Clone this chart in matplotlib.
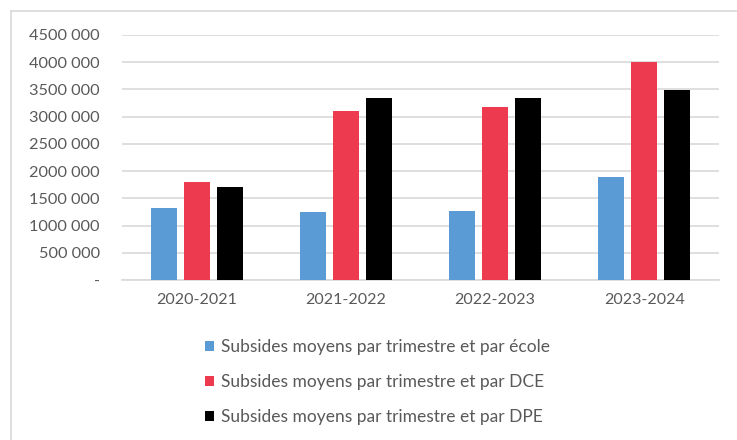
import matplotlib
matplotlib.use("Agg")
import matplotlib.pyplot as plt
import numpy as np
from matplotlib.ticker import FuncFormatter

categories = ["2020-2021", "2021-2022", "2022-2023", "2023-2024"]
ecole = [1330000, 1250000, 1275000, 1890000]
dce = [1795000, 3100000, 3175000, 3995000]
dpe = [1705000, 3345000, 3345000, 3490000]
series_labels = [
    "Subsides moyens par trimestre et par école",
    "Subsides moyens par trimestre et par DCE",
    "Subsides moyens par trimestre et par DPE",
]
colors = ["#5B9BD5", "#EE3A4F", "#000000"]
yticks = [0, 500000, 1000000, 1500000, 2000000, 2500000, 3000000, 3500000, 4000000, 4500000]

plt.rcParams['font.family'] = ['Lato', 'DejaVu Sans']
text_color = "#595959"

fig = plt.figure(figsize=(7.37, 4.4), dpi=100)
ax = fig.add_axes([122/737, 1-280/440, 597/737, 245/440])

x = np.arange(len(categories))
width = 0.174
step = 0.221
bars = []
for i, (vals, lab, c) in enumerate(zip([ecole, dce, dpe], series_labels, colors)):
    b = ax.bar(x + (i-1)*step, vals, width, color=c, label=lab, zorder=3)
    bars.append(b)

ax.set_xlim(-0.5, len(categories)-0.5)
ax.set_ylim(0, 4500000)
ax.set_yticks(yticks)

def fmt(v, pos):
    v = int(round(v))
    if v == 0:
        return "-"
    thousands = v % 1000
    rest = v // 1000
    return f"{rest} {thousands:03d}"

ax.yaxis.set_major_formatter(FuncFormatter(fmt))
ax.set_xticks(x)
ax.set_xticklabels(categories)
ax.grid(axis='y', color="#D9D9D9", linewidth=1.2, zorder=0)
for s in ["top", "right", "left"]:
    ax.spines[s].set_visible(False)
ax.spines["bottom"].set_color("#D9D9D9")
ax.spines["bottom"].set_linewidth(1.2)
ax.tick_params(axis='y', length=0, pad=16, labelsize=11.7, labelcolor=text_color)
ax.tick_params(axis='x', length=0, pad=9, labelsize=11.5, labelcolor=text_color)

leg = fig.legend(handles=bars, labels=series_labels, loc='upper left',
                 bbox_to_anchor=(205/737, 1-339/440), frameon=False,
                 fontsize=12.5, labelspacing=1.1, handlelength=0.5,
                 handleheight=0.5, handletextpad=0.4, borderpad=0, borderaxespad=0)
for t in leg.get_texts():
    t.set_color(text_color)

# chart area border (top & left visible)
fig.add_artist(plt.Line2D([11/737, 1], [1-11/440, 1-11/440], transform=fig.transFigure, color="#D9D9D9", linewidth=1.2))
fig.add_artist(plt.Line2D([11/737, 11/737], [0, 1-11/440], transform=fig.transFigure, color="#D9D9D9", linewidth=1.2))

fig.savefig("out.png", dpi=100)
